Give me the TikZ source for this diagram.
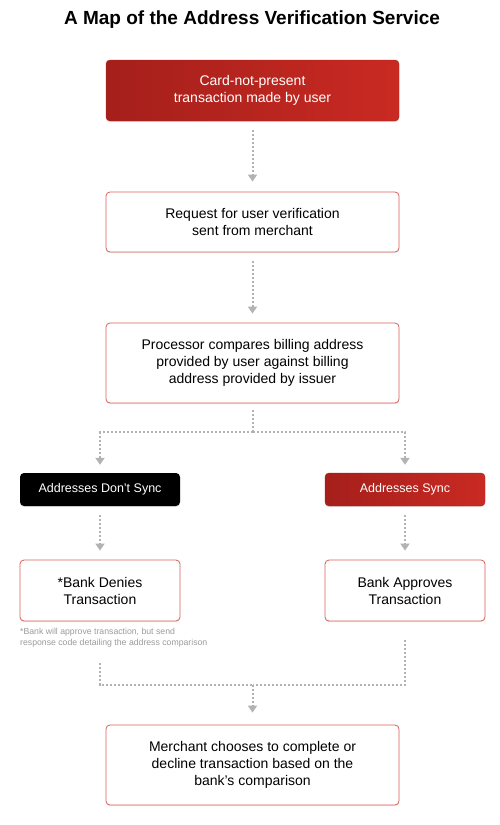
\documentclass[tikz,border=0pt]{standalone}
\usepackage{fontspec}
\setmainfont{Liberation Sans}
\usetikzlibrary{positioning,arrows.meta,shadows}
\definecolor{avsdark}{HTML}{A51F1B}
\definecolor{avsred}{HTML}{C92A22}
\definecolor{avsline}{HTML}{D8605A}
\definecolor{avsgray}{HTML}{B3B3B3}
\definecolor{avsnote}{HTML}{9A9A9A}

\begin{document}
\begin{tikzpicture}[x=1pt,y=-1pt,
  font=\fontsize{14}{17}\selectfont,
  box/.style={rounded corners=4pt,align=center,inner sep=2pt,
    drop shadow={shadow xshift=0pt,shadow yshift=-1.2pt,opacity=0.18}},
  redbox/.style={box,left color=avsdark,right color=avsred,draw=avsdark,text=white},
  wbox/.style={box,draw=avsline,fill=white,line width=0.8pt},
  blkbox/.style={box,fill=black,text=white},
  wide/.style={minimum width=293pt},
  narrow/.style={minimum width=160pt},
  link/.style={draw=avsgray,line width=2pt,dotted},
  flow/.style={link,-{Triangle[length=7pt,width=9pt]}}]
\useasboundingbox (0,0) rectangle (500,825);
\node[font=\bfseries\fontsize{19}{22}\selectfont] (title) at (252,20)
  {A Map of the Address Verification Service};
\node[redbox,wide,minimum height=61pt] (card) at (252.5,90.5)
  {Card-not-present\\transaction made by user};
\node[wbox,wide,minimum height=60pt] (request) at (252.5,222)
  {Request for user verification\\sent from merchant};
\node[wbox,wide,minimum height=80pt] (compare) at (252.5,363)
  {Processor compares billing address\\provided by user against billing\\address provided by issuer};
\node[blkbox,narrow,minimum height=33pt,font=\fontsize{12.5}{15}\selectfont] (nosync) at (100,489.5)
  {Addresses Don't Sync};
\node[redbox,narrow,minimum height=33pt,font=\fontsize{12.5}{15}\selectfont] (sync) at (405,489.5)
  {Addresses Sync};
\node[wbox,narrow,minimum height=61pt] (deny) at (100,590.5)
  {*Bank Denies\\Transaction};
\node[wbox,narrow,minimum height=61pt] (approve) at (405,590.5)
  {Bank Approves\\Transaction};
\node[anchor=north west,align=left,inner sep=0pt,text=avsnote,
  font=\fontsize{8.7}{10.5}\selectfont] (note) at (20,628)
  {*Bank will approve transaction, but send\\response code detailing the address comparison};
\node[wbox,wide,minimum height=80pt] (final) at (252.5,765)
  {Merchant chooses to complete or\\decline transaction based on the\\bank's comparison};
\coordinate (split) at (252.5,432);
\coordinate (join) at (252.5,685);
% main line
\draw[flow,shorten <=9pt,shorten >=10pt] (card) -- (request);
\draw[flow,shorten <=9pt,shorten >=9pt] (request) -- (compare);
% branch
\draw[link,shorten <=7pt] (compare) -- (split);
\draw[flow,shorten >=8pt] (split) -| (nosync);
\draw[flow,shorten >=8pt] (split) -| (sync);
\draw[flow,shorten <=9pt,shorten >=9pt] (nosync) -- (deny);
\draw[flow,shorten <=9pt,shorten >=9pt] (sync) -- (approve);
% merge
\draw[link,shorten <=42pt] (deny) |- (join);
\draw[link,shorten <=19pt] (approve) |- (join);
\draw[flow,shorten >=12pt] (join) -- (final);
\end{tikzpicture}
\end{document}
